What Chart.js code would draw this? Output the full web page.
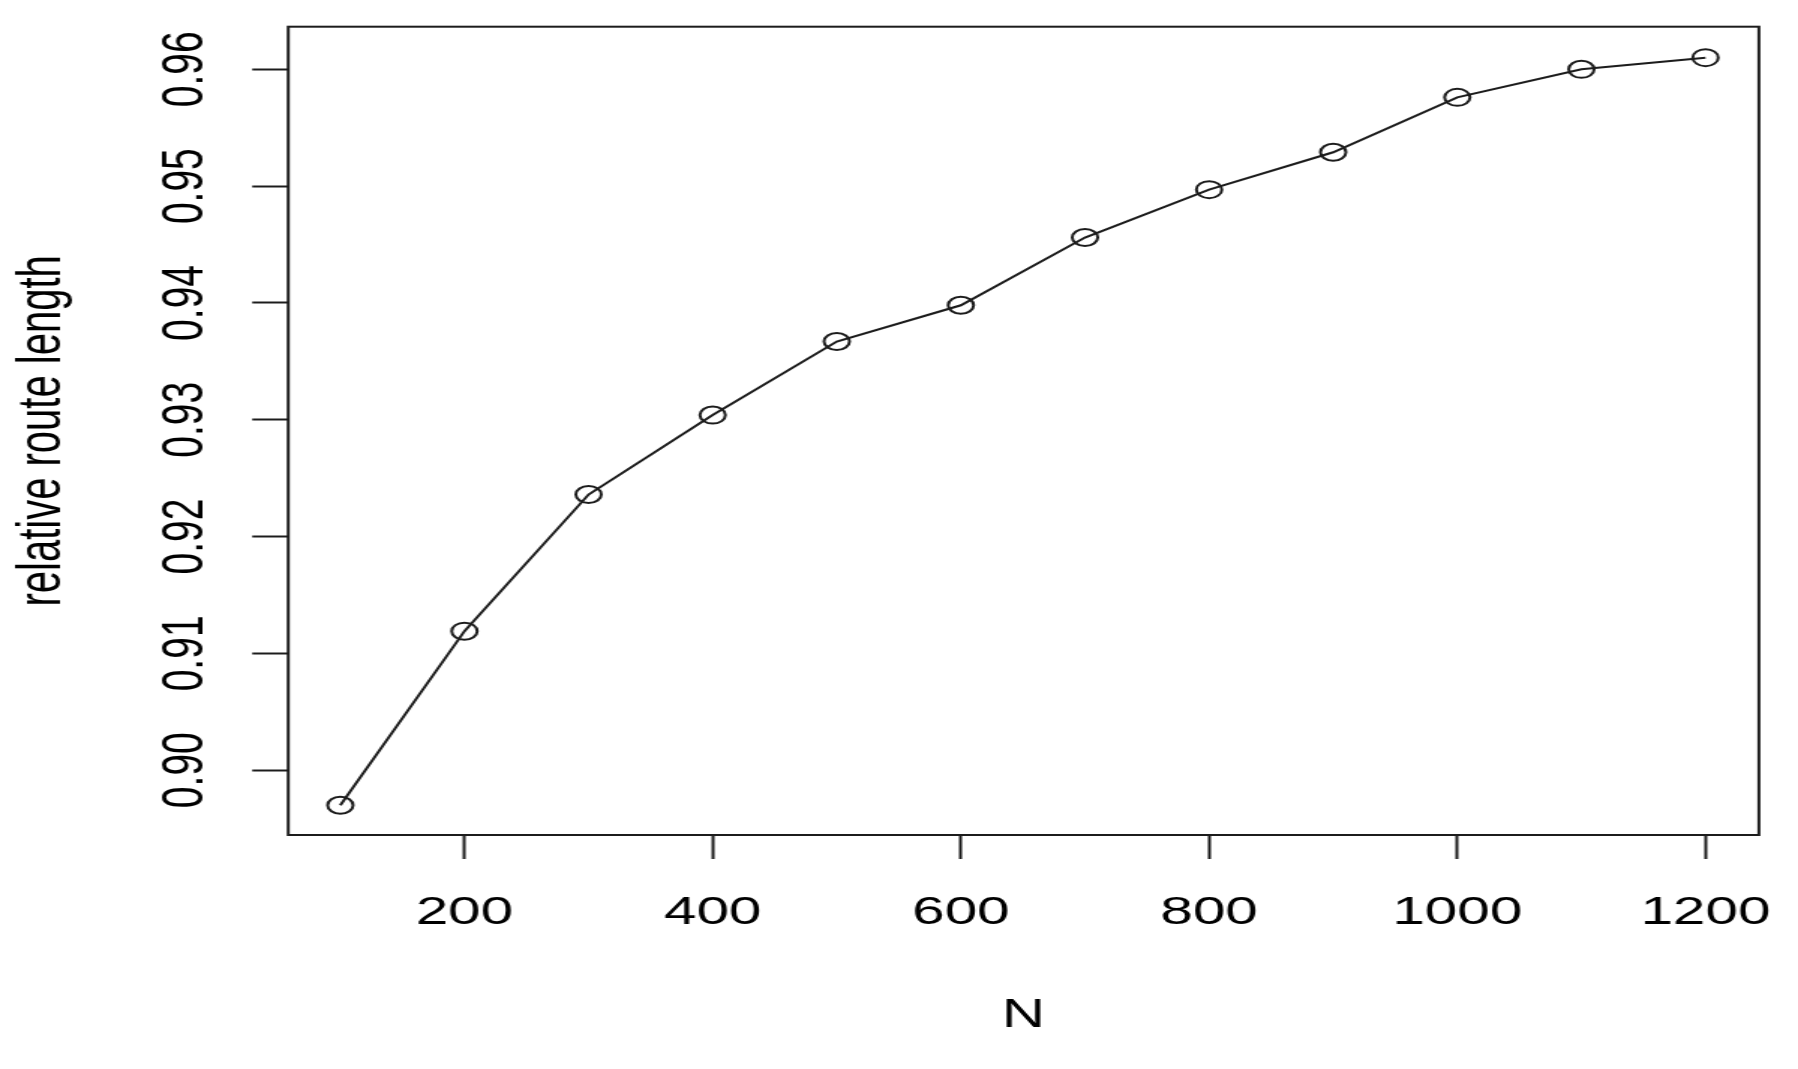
<!DOCTYPE html>
<html>
<head>
<meta charset="utf-8">
<script src="https://cdn.jsdelivr.net/npm/chart.js@4.4.0/dist/chart.umd.min.js"></script>
<style>
  html, body { margin: 0; padding: 0; background: #ffffff; overflow: hidden; }
  #wrap { width: 1798px; height: 1069px; overflow: hidden; background: #ffffff; }
  /* the reference plot is stretched horizontally by ~1.5 */
  #c { display: block; transform: scaleX(1.499583); transform-origin: 0 0; }
</style>
</head>
<body>
<div id="wrap"><canvas id="c" width="1199" height="1069"></canvas></div>
<script>
// ---- data ----
const nValues = [100, 200, 300, 400, 500, 600, 700, 800, 900, 1000, 1100, 1200];
const relativeRouteLength = [0.8970, 0.9119, 0.9236, 0.9304, 0.9367, 0.9398, 0.9456, 0.9497, 0.9529, 0.9576, 0.9600, 0.9610];
const xTickValues = [200, 400, 600, 800, 1000, 1200];
const xTickLabels = ['200', '400', '600', '800', '1000', '1200'];
const yTickValues = [0.90, 0.91, 0.92, 0.93, 0.94, 0.95, 0.96];
const yTickLabels = ['0.90', '0.91', '0.92', '0.93', '0.94', '0.95', '0.96'];
const xTitle = 'N';
const yTitle = 'relative route length';

const FONT = '"Liberation Sans", Arial, Helvetica, sans-serif';
const INK = '#1c1c1c';

const framePlugin = {
  id: 'frame',
  afterDatasetsDraw(chart) {
    const { ctx, chartArea: a } = chart;
    ctx.save();
    ctx.strokeStyle = INK;
    ctx.lineWidth = 2;
    ctx.strokeRect(a.left, a.top, a.right - a.left, a.bottom - a.top);
    ctx.restore();
  }
};

function zeroPad(s) {
  s.paddingLeft = 0; s.paddingRight = 0; s.paddingTop = 0; s.paddingBottom = 0;
}

new Chart(document.getElementById('c'), {
  type: 'line',
  data: {
    datasets: [{
      data: nValues.map((n, i) => ({ x: n, y: relativeRouteLength[i] })),
      borderColor: INK,
      borderWidth: 2,
      tension: 0,
      fill: false,
      pointStyle: 'circle',
      pointRadius: 8.5,
      pointBorderWidth: 2,
      pointBorderColor: INK,
      pointBackgroundColor: 'rgba(0,0,0,0)'
    }]
  },
  options: {
    responsive: false,
    animation: false,
    devicePixelRatio: 1,
    layout: { padding: { left: 0, top: 26.7, right: 26.1, bottom: 0 } },
    plugins: { legend: { display: false }, tooltip: { enabled: false } },
    scales: {
      x: {
        type: 'linear',
        position: 'bottom',
        bounds: 'data',
        min: 58,
        max: 1243,
        afterBuildTicks: s => { s.ticks = xTickValues.map(v => ({ value: v })); },
        afterFit: s => { s.height = 234; zeroPad(s); },
        grid: { display: true, drawOnChartArea: false, drawTicks: true, tickLength: 24, tickWidth: 2, tickColor: INK },
        border: { display: false },
        ticks: {
          autoSkip: false, minRotation: 0, maxRotation: 0, padding: 30.5,
          color: '#000', font: { family: FONT, size: 39 },
          callback: (v, i) => xTickLabels[i]
        },
        title: { display: true, text: xTitle, color: '#000', font: { family: FONT, size: 40 }, padding: { top: 0, bottom: 29.4 } }
      },
      y: {
        type: 'linear',
        position: 'left',
        bounds: 'data',
        min: 0.89445,
        max: 0.96365,
        afterBuildTicks: s => { s.ticks = yTickValues.map(v => ({ value: v })); },
        afterFit: s => { s.width = 192.2; zeroPad(s); },
        grid: { display: true, drawOnChartArea: false, drawTicks: true, tickLength: 24, tickWidth: 2, tickColor: INK },
        border: { display: false },
        ticks: {
          autoSkip: false, minRotation: 90, maxRotation: 90, crossAlign: 'center', padding: 5.6,
          color: '#000', font: { family: FONT, size: 39 },
          callback: (v, i) => yTickLabels[i]
        },
        title: { display: true, text: yTitle, color: '#000', font: { family: FONT, size: 40 }, padding: { top: 4.7, bottom: 0 } }
      }
    }
  },
  plugins: [framePlugin]
});
</script>
</body>
</html>
